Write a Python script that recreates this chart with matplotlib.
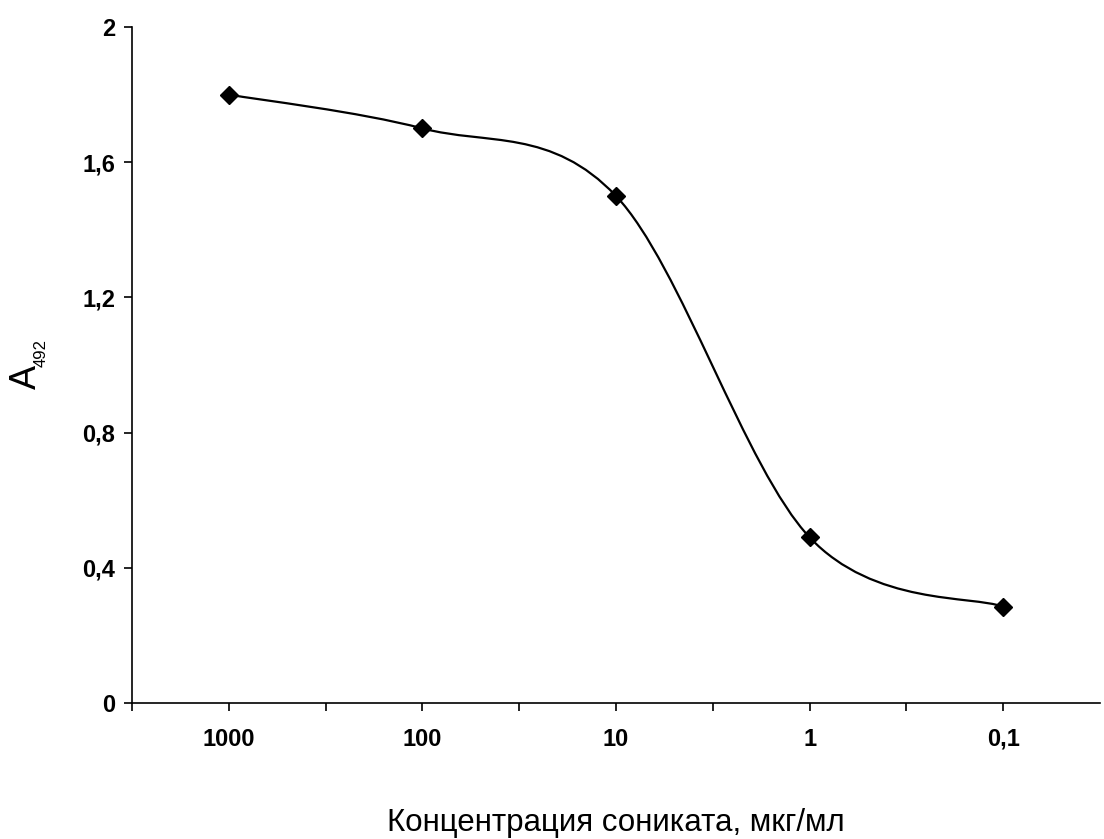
import numpy as np
import matplotlib
matplotlib.use('Agg')
import matplotlib.pyplot as plt
from matplotlib.path import Path
from matplotlib.patches import PathPatch

plt.rcParams['font.family'] = ['Liberation Sans', 'DejaVu Sans']

# sonicate concentration, µg/ml (categories, high to low)
conc_labels = ['1000', '100', '10', '1', '0,1']
a492 = [1.80, 1.70, 1.50, 0.49, 0.285]

ytick_vals = [0, 0.4, 0.8, 1.2, 1.6, 2.0]
ytick_labels = ['0', '0,4', '0,8', '1,2', '1,6', '2']

xlabel = 'Концентрация соника\u0442а, мкг/мл'


def smooth_path(xs, ys):
    ''' Smoothed line through the points (Catmull-Rom as cubic Beziers) '''
    pts = np.column_stack([xs, ys]).astype(float)
    n = len(pts)
    verts = [pts[0]]
    codes = [Path.MOVETO]
    for i in range(n - 1):
        p0 = pts[i - 1] if i > 0 else pts[i]
        p1 = pts[i]
        p2 = pts[i + 1]
        p3 = pts[i + 2] if i + 2 < n else pts[i + 1]
        c1 = p1 + (p2 - p0) / 6.0
        c2 = p2 - (p3 - p1) / 6.0
        verts += [c1, c2, p2]
        codes += [Path.CURVE4] * 3
    return Path(verts, codes)


fig = plt.figure(figsize=(11.04, 8.39), dpi=100)
ax = fig.add_axes([0.1196, 0.1621, 0.8768, 0.8057])

x = np.arange(len(a492))
ax.add_patch(PathPatch(smooth_path(x, a492), facecolor='none',
                       edgecolor='black', linewidth=1.6))
ax.plot(x, a492, linestyle='none', marker='D', markersize=9.5,
        color='black', zorder=3)

ax.set_xlim(-0.5, 4.5)
ax.set_ylim(0, 2)
ax.spines['top'].set_visible(False)
ax.spines['right'].set_visible(False)
ax.spines['left'].set_linewidth(1.2)
ax.spines['bottom'].set_linewidth(1.2)

ax.set_xticks(x)
ax.set_xticklabels(conc_labels, fontsize=17, fontweight='bold')
ax.set_xticks(np.arange(-0.5, 4.5, 1.0), minor=True)
ax.tick_params(axis='x', which='both', direction='out', length=6,
               width=1.2, pad=12)
ax.set_yticks(ytick_vals)
ax.set_yticklabels(ytick_labels, fontsize=17, fontweight='bold')
ax.tick_params(axis='y', direction='out', length=6, width=1.2, pad=6)

ax.set_xlabel(xlabel, fontsize=22.5, labelpad=41)

# y label: A with subscript 492, rotated
fig.text(0.0236, 0.5507, 'A', rotation=90, fontsize=26,
         ha='center', va='center')
fig.text(0.0371, 0.5793, '492', rotation=90, fontsize=12,
         ha='center', va='center')

fig.savefig('out.png', dpi=100)
